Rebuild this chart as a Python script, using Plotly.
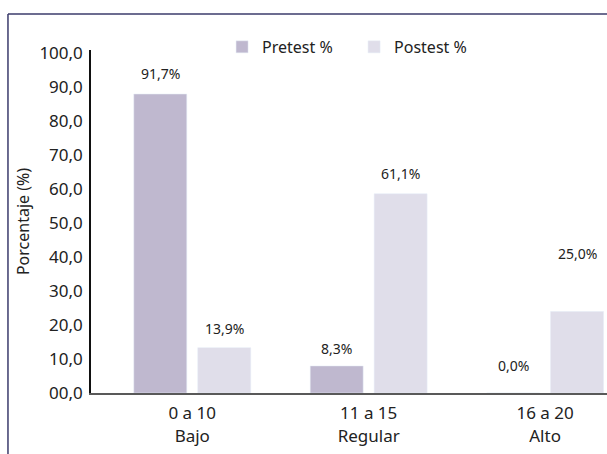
import plotly.graph_objects as go

categories = ["0 a 10<br>Bajo", "11 a 15<br>Regular", "16 a 20<br>Alto"]
pretest = [91.7, 8.3, 0.0]
postest = [13.9, 61.1, 25.0]
pre_labels = ["91,7%", "8,3%", "0,0%"]
post_labels = ["13,9%", "61,1%", "25,0%"]
tick_labels = ["00,0", "10,0", "20,0", "30,0", "40,0", "50,0", "60,0", "70,0", "80,0", "90,0", "100,0"]
tick_numbers = [0, 10, 20, 30, 40, 50, 60, 70, 80, 90, 100]

PRE_COLOR = "#BFB8CF"
POST_COLOR = "#E0DEEA"
FONT = "Noto Sans"
TXT = "#222222"
AXIS_SCALE = 1.043  # reference tick labels are spaced slightly wider than bar scale

fig = go.Figure()
fig.add_trace(go.Bar(x=categories, y=pretest, name="Pretest %", marker_color=PRE_COLOR))
fig.add_trace(go.Bar(x=categories, y=postest, name="Postest %", marker_color=POST_COLOR))

pre_shift = [21, 17, 28]
post_shift = [19, 20, 58]
for i, c in enumerate(categories):
    fig.add_annotation(x=c, y=pretest[i], text=pre_labels[i], showarrow=False,
                       xshift=-32, yshift=pre_shift[i], yanchor="middle",
                       font=dict(family=FONT, size=14, color=TXT))
    fig.add_annotation(x=c, y=postest[i], text=post_labels[i], showarrow=False,
                       xshift=32, yshift=post_shift[i], yanchor="middle",
                       font=dict(family=FONT, size=14, color=TXT))

# frame lines (left and top)
fig.add_shape(type="line", xref="paper", yref="paper", x0=-0.1609, x1=1.02, y0=1.105, y1=1.105,
              line=dict(color="#3B3B6B", width=1.5))
fig.add_shape(type="line", xref="paper", yref="paper", x0=-0.1609, x1=-0.1609, y0=1.105, y1=-0.2,
              line=dict(color="#3B3B6B", width=1.5))

fig.update_layout(
    width=607, height=454,
    margin=dict(l=91, r=0, t=50, b=61),
    paper_bgcolor="white", plot_bgcolor="white",
    barmode="group", bargap=0.275, bargroupgap=0.172,
    font=dict(family=FONT, size=16, color=TXT),
    showlegend=True,
    legend=dict(orientation="h", x=0.254, y=1.009, xanchor="left", yanchor="middle",
                font=dict(family=FONT, size=16, color=TXT), itemwidth=30,
                entrywidth=87, entrywidthmode="pixels",
                tracegroupgap=0, bgcolor="rgba(0,0,0,0)"),
    xaxis=dict(type="category", range=[-0.574, 2.351], showline=True, linecolor="#595959",
               linewidth=2, ticks="", showgrid=False, ticklabelstandoff=4,
               tickfont=dict(family=FONT, size=17, color=TXT)),
    yaxis=dict(range=[0, 105.2], showline=True, linecolor="#111111", linewidth=1.5,
               ticks="", showgrid=False, zeroline=False,
               tickvals=[v * AXIS_SCALE for v in tick_numbers], ticktext=tick_labels,
               tickfont=dict(family=FONT, size=17, color=TXT), ticklabelstandoff=3,
               title=dict(text="Porcentaje (%)", font=dict(family=FONT, size=16, color=TXT), standoff=6)),
)

fig.write_html("out.html")
